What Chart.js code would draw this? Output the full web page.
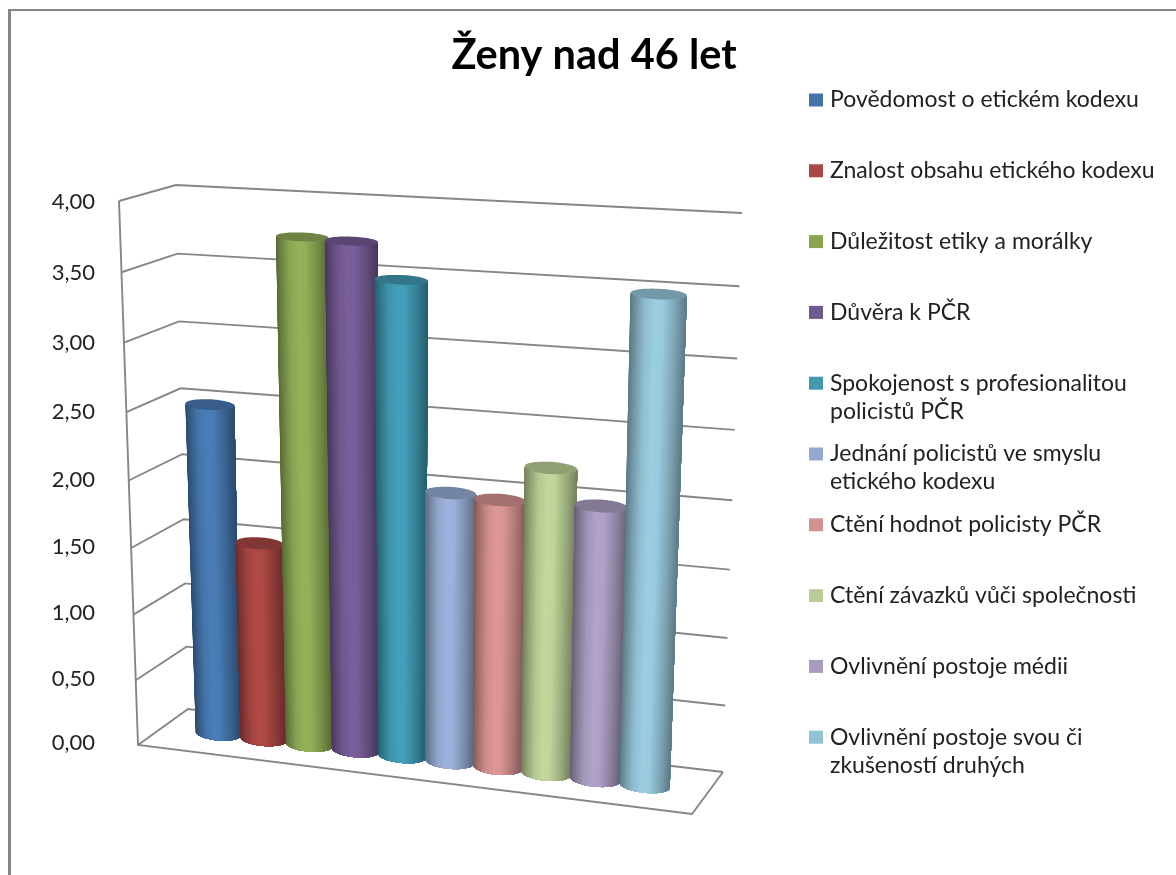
<!DOCTYPE html>
<html>
<head>
<meta charset="utf-8">
<title>Ženy nad 46 let</title>
<script src="https://cdn.jsdelivr.net/npm/chart.js@4/dist/chart.umd.min.js"></script>
<style>
    html, body { margin: 0; padding: 0; background: #fff; overflow: hidden; width: 1176px; height: 875px; }
    #frame { position: absolute; left: 8px; top: 9px; border-left: 3px solid #868686; border-top: 2px solid #868686; }
    canvas { display: block; }
</style>
</head>
<body>
<div id="frame"><canvas id="chart" width="1166" height="864"></canvas></div>
<script>
const categories = ['']
const seriesNames = [
    'Povědomost o etickém kodexu',
    'Znalost obsahu etického kodexu',
    'Důležitost etiky a morálky',
    'Důvěra k PČR',
    'Spokojenost s profesionalitou policistů PČR',
    'Jednání policistů ve smyslu etického kodexu',
    'Ctění hodnot policisty PČR',
    'Ctění závazků vůči společnosti',
    'Ovlivnění postoje médii',
    'Ovlivnění postoje svou či zkušeností druhých',
]
const seriesValues = [2.50, 1.50, 3.75, 3.74, 3.49, 2.00, 1.98, 2.24, 2.00, 3.50]
const seriesColors = [
    '#4573A7', '#AA4643', '#89A54E', '#71588F', '#4198AF',
    '#93A9CF', '#D19392', '#B9CD96', '#A99BBD', '#92C3D4',
]
const bodyColors = [
    '#4A7EB8', '#B04A47', '#94B35A', '#7A5F9B', '#43A0BB',
    '#9DB4DD', '#DE9796', '#C3D89C', '#B1A3C9', '#9CCEE2',
]

// frame corner, everything below is in page pixels
const OFFSET = 11
const LINE = '#868686'

// corners of the 3D box the picture was rendered in
const FRONT = { bl: [138, 745], br: [692, 814], tl: [119, 201], tr: [718, 234] }
const BACK = { bl: [188, 709], br: [723, 772], tl: [176, 185], tr: [742, 213] }

const WARP_X = 0.07
const WARP_Y = 0.055
const DEPTH = 0.22
const LEAN = 2
const FLARE = 0.07

function project(u, v, w) {
    const out = []
    for (let i = 0; i < 2; i++) {
        const f = (FRONT.bl[i] * (1 - u) + FRONT.br[i] * u) * (1 - v) + (FRONT.tl[i] * (1 - u) + FRONT.tr[i] * u) * v
        const b = (BACK.bl[i] * (1 - u) + BACK.br[i] * u) * (1 - v) + (BACK.tl[i] * (1 - u) + BACK.tr[i] * u) * v
        out.push(f * (1 - w) + b * w)
    }
    return out
}

// the value axis of the original is foreshortened, so is this one
class PerspectiveScale extends Chart.LinearScale {
    getPixelForValue(value) {
        const d = (value - this.min) / (this.max - this.min)
        return this.getPixelForDecimal(d + WARP_Y * d * (d - 1))
    }
}
PerspectiveScale.id = 'perspective'
PerspectiveScale.defaults = Chart.LinearScale.defaults
Chart.register(PerspectiveScale)

function shadeColor(hex, k) {
    const n = parseInt(hex.slice(1), 16)
    const c = [n >> 16, (n >> 8) & 255, n & 255].map(x => Math.min(255, Math.round(x * k)))
    return `rgb(${c[0]},${c[1]},${c[2]})`
}

const SHADE = [[0, 0.58], [0.12, 0.72], [0.3, 0.92], [0.48, 1], [0.62, 0.98], [0.85, 0.78], [1, 0.6]]
function shadeAt(x) {
    for (let i = 1; i < SHADE.length; i++) {
        if (x <= SHADE[i][0]) {
            const t = (x - SHADE[i - 1][0]) / (SHADE[i][0] - SHADE[i - 1][0])
            return SHADE[i - 1][1] + (SHADE[i][1] - SHADE[i - 1][1]) * t
        }
    }
    return 1
}

function drawPolyline(ctx, points) {
    ctx.beginPath()
    points.forEach((p, i) => i ? ctx.lineTo(p[0], p[1]) : ctx.moveTo(p[0], p[1]))
    ctx.stroke()
}

function drawBox(chart) {
    const { ctx, scales: { y } } = chart
    ctx.strokeStyle = LINE
    ctx.lineWidth = 1.9
    y.ticks.forEach(tick => {
        const v = (y.bottom - y.getPixelForValue(tick.value)) / (y.bottom - y.top)
        drawPolyline(ctx, [project(0, v, 0), project(0, v, 1), project(1, v, 1)])
    })
    drawPolyline(ctx, [project(0, 1, 0), project(0, 0, 0), project(1, 0, 0), project(1, 0, 1)])
}

function ellipseAt(center, a, b, t) {
    return [
        center[0] + a[0] * Math.cos(t) + b[0] * Math.sin(t),
        center[1] + a[1] * Math.cos(t) + b[1] * Math.sin(t),
    ]
}

function axesAt(u, halfU, v) {
    const c = project(u, v, 0.5)
    const right = project(u + halfU, v, 0.5)
    const front = project(u, v, 0.5 - DEPTH)
    const flat = 0.8 + 0.25 * v
    const flare = 1 + FLARE * v
    const a = [(right[0] - c[0]) * flare, (right[1] - c[1]) * flare]
    const b = [(front[0] - c[0]) * 0.3, (front[1] - c[1]) * flat]
    c[0] -= LEAN * v
    return { c, a, b }
}

function drawCylinder(ctx, bar, area, color) {
    const raw = (bar.x - area.left) / area.width
    const halfRaw = bar.width / 2 / area.width
    const u = raw + WARP_X * raw * (raw - 1)
    const halfU = halfRaw * (1 + WARP_X * (2 * raw - 1))
    const vTop = (area.bottom - bar.y) / area.height

    const bottom = axesAt(u, halfU, 0)
    const top = axesAt(u, halfU, vTop)

    // body painted left to right, each strip runs on to the right edge
    const STRIPS = 60
    for (let i = 0; i < STRIPS; i++) {
        const x = (1 - Math.cos(Math.PI * (i + 0.5) / STRIPS)) / 2
        ctx.fillStyle = shadeColor(color, shadeAt(x))
        ctx.beginPath()
        for (let k = i; k <= STRIPS; k++) {
            const q = ellipseAt(top.c, top.a, top.b, Math.PI - Math.PI * k / STRIPS)
            k === i ? ctx.moveTo(q[0], q[1]) : ctx.lineTo(q[0], q[1])
        }
        for (let k = STRIPS; k >= i; k--) {
            const q = ellipseAt(bottom.c, bottom.a, bottom.b, Math.PI - Math.PI * k / STRIPS)
            ctx.lineTo(q[0], q[1])
        }
        ctx.closePath()
        ctx.fill()
    }

    // top cap
    ctx.fillStyle = shadeColor(color, 0.74)
    ctx.beginPath()
    for (let i = 0; i < 60; i++) {
        const q = ellipseAt(top.c, top.a, top.b, Math.PI * 2 * i / 60)
        i ? ctx.lineTo(q[0], q[1]) : ctx.moveTo(q[0], q[1])
    }
    ctx.closePath()
    ctx.fill()
}

function wrapLabel(ctx, text, maxWidth) {
    const lines = []
    let line = ''
    text.split(' ').forEach(word => {
        const next = line ? line + ' ' + word : word
        if (ctx.measureText(next).width > maxWidth) {
            lines.push(line)
            line = word
        } else {
            line = next
        }
    })
    lines.push(line)
    return lines
}

function drawLegend(chart) {
    const ctx = chart.ctx
    ctx.font = '23px Lato'
    ctx.textBaseline = 'middle'
    ctx.textAlign = 'left'
    chart.data.datasets.forEach((ds, i) => {
        const y = 100 + i * 70.8
        ctx.fillStyle = ds.backgroundColor
        ctx.fillRect(809, y - 6.5, 14, 13)
        ctx.fillStyle = '#222222'
        wrapLabel(ctx, ds.label, 332).forEach((line, k) => ctx.fillText(line, 830, y + k * 28))
    })
}

const box3d = {
    id: 'box3d',
    beforeDatasetsDraw(chart) {
        const ctx = chart.ctx
        const { chartArea: area, scales: { y } } = chart
        ctx.save()
        ctx.translate(-OFFSET, -OFFSET)
        drawBox(chart)
        const plot = { left: area.left, width: area.right - area.left, bottom: y.bottom, height: y.bottom - y.top }
        chart.data.datasets.forEach((ds, i) => {
            drawCylinder(ctx, chart.getDatasetMeta(i).data[0], plot, bodyColors[i])
        })
        drawLegend(chart)
        ctx.restore()
        return false
    },
}

new Chart(document.getElementById('chart').getContext('2d'), {
    type: 'bar',
    data: {
        labels: categories,
        datasets: seriesNames.map((name, i) => ({
            label: name,
            data: [seriesValues[i]],
            backgroundColor: seriesColors[i],
        })),
    },
    options: {
        responsive: false,
        animation: false,
        categoryPercentage: 0.87,
        barPercentage: 1,
        layout: { padding: { left: 0, right: 0, top: 0, bottom: 132 } },
        scales: {
            x: { display: false },
            y: {
                type: 'perspective',
                min: 0,
                max: 4,
                grid: { display: false, drawTicks: false },
                border: { display: false },
                afterFit(scale) { scale.width = 90 },
                ticks: {
                    stepSize: 0.5,
                    padding: 6,
                    color: '#222222',
                    font: { family: 'Lato', size: 22 },
                    callback: value => value.toFixed(2).replace('.', ','),
                },
            },
        },
        plugins: {
            legend: { display: false },
            tooltip: { enabled: false },
            title: {
                display: true,
                text: 'Ženy nad 46 let',
                color: '#000000',
                font: { family: 'Lato', size: 41.5, weight: 'bold' },
                padding: { top: 20, bottom: 121 },
            },
        },
    },
    plugins: [box3d],
})
</script>
</body>
</html>
